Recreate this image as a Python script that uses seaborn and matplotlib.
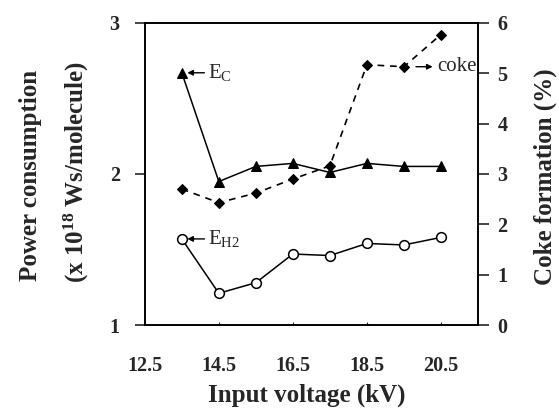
import matplotlib
matplotlib.use("Agg")
import matplotlib.pyplot as plt
import seaborn as sns
import pandas as pd

voltage = [13.5, 14.5, 15.5, 16.5, 17.5, 18.5, 19.5, 20.5]
e_c = [2.67, 1.95, 2.05, 2.07, 2.01, 2.07, 2.05, 2.05]
e_h2 = [1.57, 1.21, 1.28, 1.47, 1.46, 1.54, 1.53, 1.58]
coke = [2.70, 2.43, 2.62, 2.90, 3.16, 5.17, 5.13, 5.77]
x_ticks = [12.5, 14.5, 16.5, 18.5, 20.5]
left_ticks = [1, 2, 3]
right_ticks = [0, 1, 2, 3, 4, 5, 6]

sns.set_style("ticks")
plt.rcParams['font.family'] = ['Liberation Serif', 'DejaVu Serif']
plt.rcParams['mathtext.fontset'] = 'custom'
plt.rcParams['mathtext.rm'] = 'Liberation Serif'
plt.rcParams['mathtext.bf'] = 'Liberation Serif:bold'
plt.rcParams['mathtext.it'] = 'Liberation Serif:italic'

df = pd.DataFrame({"voltage": voltage, "e_c": e_c, "e_h2": e_h2, "coke": coke})

fig = plt.figure(figsize=(5.59, 4.17), dpi=100)
ax = fig.add_axes([0.259, 0.2206, 0.596, 0.7244])
ax2 = ax.twinx()

sns.lineplot(data=df, x="voltage", y="e_c", ax=ax, color="black", lw=1.1,
             marker="^", markersize=7.5, markerfacecolor="black", markeredgecolor="black")
sns.lineplot(data=df, x="voltage", y="e_h2", ax=ax, color="black", lw=1.1,
             marker="o", markersize=7, markerfacecolor="white", markeredgecolor="black",
             markeredgewidth=1.1)
sns.lineplot(data=df, x="voltage", y="coke", ax=ax2, color="black", lw=1.2,
             marker="D", markersize=5.5, markerfacecolor="black", markeredgecolor="black")
ax2.lines[-1].set_dashes([4, 3.5])

ax.set_xlim(12.5, 21.5)
ax.set_ylim(1, 3)
ax2.set_ylim(0, 6)
ax.set_xticks(x_ticks)
ax.set_yticks(left_ticks)
ax2.set_yticks(right_ticks)
ax.set_xlabel("")
ax.set_ylabel("")
ax2.set_ylabel("")

for a in (ax, ax2):
    for s in a.spines.values():
        s.set_linewidth(1.2)
        s.set_color("black")
        s.set_visible(True)

ax.tick_params(axis="x", direction="in", length=2, width=0.8, pad=22, labelsize=14.5)
ax.tick_params(axis="y", direction="out", length=7, width=1.2, pad=11, labelsize=14.5)
ax2.tick_params(axis="y", direction="out", length=8, width=1.2, pad=6, labelsize=14.5)
for lab in ax.get_xticklabels() + ax.get_yticklabels() + ax2.get_yticklabels():
    lab.set_fontweight("bold")

arrow = dict(arrowstyle="-|>", color="black", lw=1.0, mutation_scale=8, shrinkA=0, shrinkB=4)
ax.annotate(r"$\mathrm{E_C}$", xy=(voltage[0], e_c[0]), xytext=(14.2, e_c[0]),
            ha="left", va="center", fontsize=15, arrowprops=arrow)
ax.annotate(r"$\mathrm{E_{H2}}$", xy=(voltage[0], e_h2[0]), xytext=(14.2, e_h2[0]),
            ha="left", va="center", fontsize=15, arrowprops=arrow)
ax2.annotate("", xy=(20.35, coke[6]), xytext=(19.75, coke[6]),
             arrowprops=dict(arrowstyle="-|>", color="black", lw=1.0, mutation_scale=8))
ax2.text(20.4, coke[6], "coke", ha="left", va="center", fontsize=15)

fig.text(0.054, 0.58, "Power consumption", rotation=90, ha="center", va="center",
         fontsize=18, fontweight="bold")
fig.text(0.136, 0.588, r"(x 10$\mathbf{^{18}}$ Ws/molecule)", rotation=90, ha="center",
         va="center", fontsize=18, fontweight="bold")
fig.text(0.975, 0.576, "Coke formation (%)", rotation=90, ha="center", va="center",
         fontsize=18, fontweight="bold")
fig.text(0.549, 0.053, "Input voltage (kV)", ha="center", va="center",
         fontsize=18, fontweight="bold")

fig.savefig("out.png", dpi=100)
